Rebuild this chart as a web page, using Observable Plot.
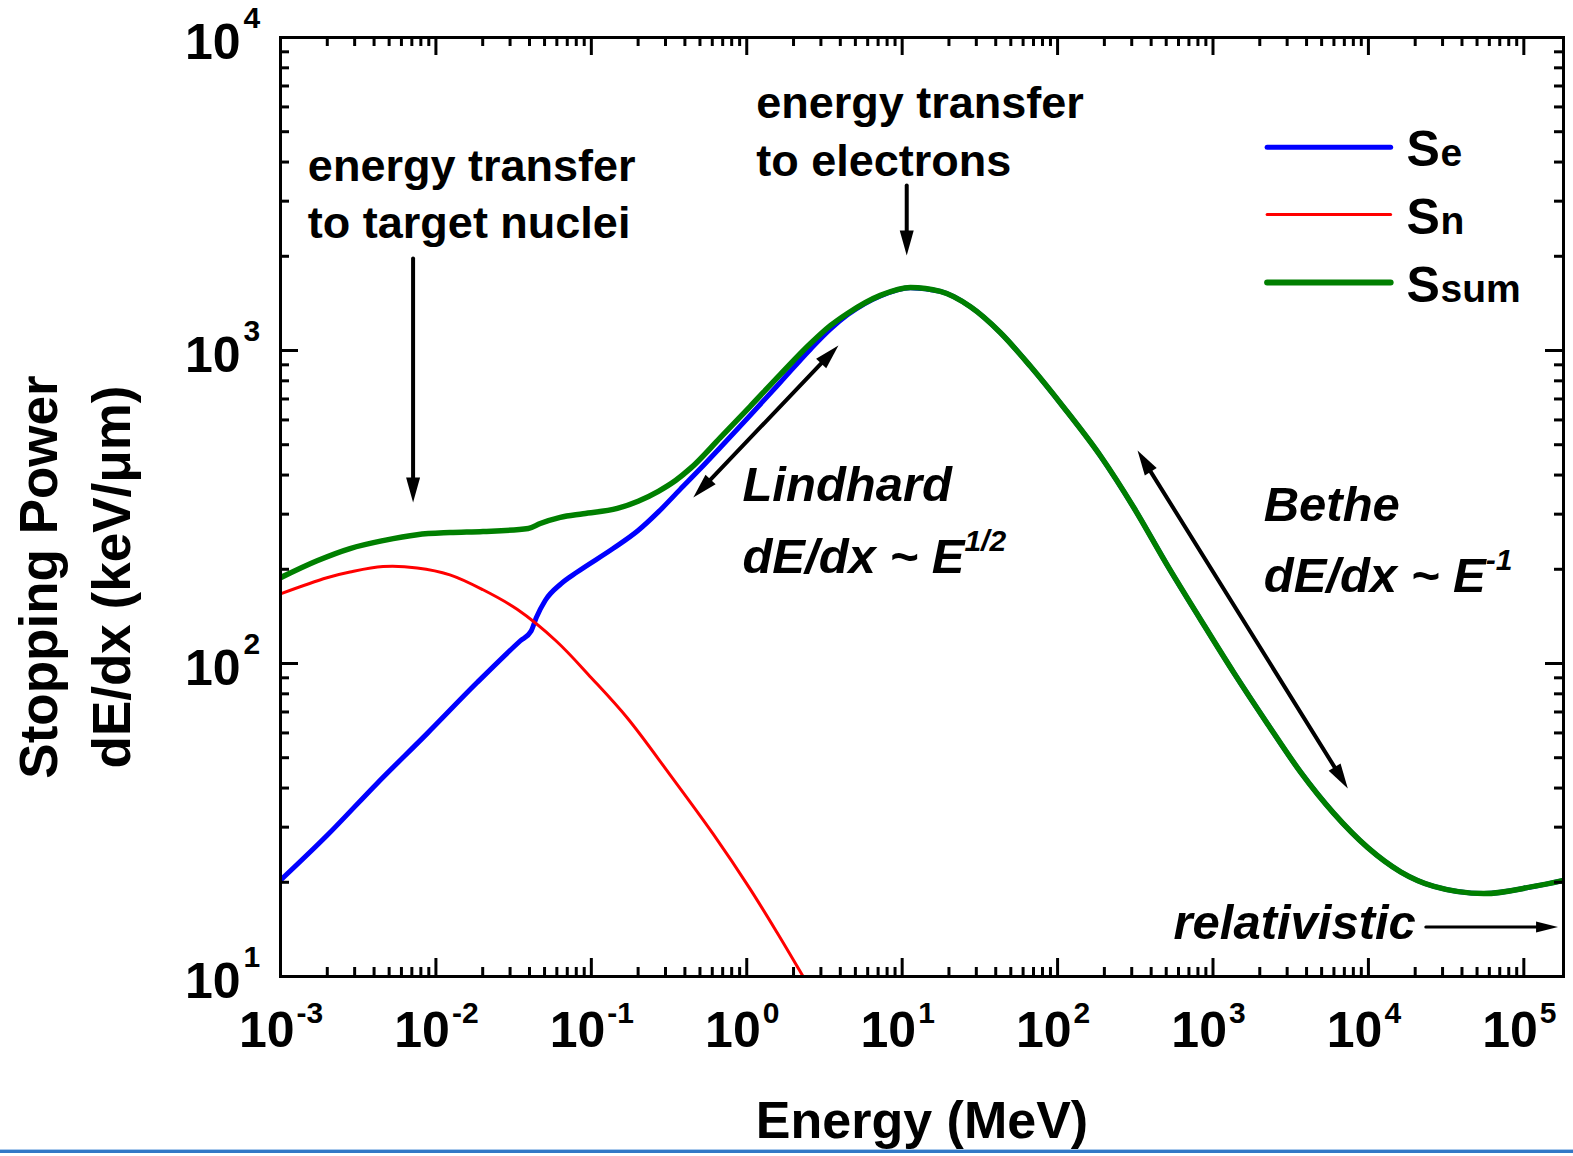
<!DOCTYPE html>
<html>
<head>
<meta charset="utf-8">
<script src="https://cdn.jsdelivr.net/npm/d3@7"></script>
<script src="https://cdn.jsdelivr.net/npm/@observablehq/plot@0.6"></script>
<style>
  html, body { margin: 0; padding: 0; background: #fff; }
  #chart { width: 1573px; height: 1149px; overflow: hidden; }
  #chart svg { overflow: hidden; }
  .edge1 { height: 1px; background: #a9c9ec; }
  .edge2 { height: 3px; background: #3278c6; }
</style>
</head>
<body>
<div id="chart"></div>
<div class="edge1"></div>
<div class="edge2"></div>
<script>
// Electronic stopping power Se (MeV, keV/µm)
const seEnergy = [0.001, 0.00199, 0.00418, 0.00877, 0.0184, 0.0348, 0.0410, 0.0442, 0.0505, 0.0640, 0.0811, 0.138, 0.200, 0.270, 0.373, 0.500, 0.676, 1.05, 1.64, 2.57, 3.45, 4.45, 7.24, 11.3, 17.6, 27.5, 42.9, 66.9, 109, 189, 309, 511, 833, 1360, 2250, 3670, 5990, 9910, 16100, 26400, 55300, 116000, 181000];
const seValue  = [20.3, 28.2, 41.4, 59.7, 86.9, 118, 127, 140, 159, 180, 196, 233, 266, 305, 360, 418, 490, 620, 790, 1010, 1170, 1300, 1495, 1588, 1545, 1380, 1140, 890, 660, 460, 315, 205, 138, 93.5, 64, 44.9, 33.2, 25.8, 21.6, 19.4, 18.4, 19.4, 20.3];

// Nuclear stopping power Sn
const snEnergy = [0.001, 0.00199, 0.0028, 0.00457, 0.00757, 0.0123, 0.0201, 0.0333, 0.0594, 0.0998, 0.170, 0.322, 0.609, 1.04, 1.57, 2.42];
const snValue  = [167, 188, 196, 204, 202, 192, 172, 149, 118, 90.1, 67.1, 44, 28.5, 19.2, 13.8, 9.6];

// Total stopping power Ssum
const sumEnergy = [0.001, 0.00172, 0.00280, 0.00457, 0.00757, 0.0123, 0.0201, 0.0393, 0.0469, 0.0631, 0.0887, 0.147, 0.200, 0.270, 0.350, 0.434, 0.676, 1.05, 1.64, 2.57, 3.45, 4.45, 7.24, 11.3, 17.6, 27.5, 42.9, 66.9, 109, 189, 309, 511, 833, 1360, 2250, 3670, 5990, 9910, 16100, 26400, 55300, 116000, 181000];
const sumValue  = [188, 213, 233, 247, 258, 262, 264, 270, 280, 293, 301, 313, 330, 355, 385, 420, 527, 662, 837, 1052, 1200, 1313, 1500, 1590, 1545, 1380, 1140, 890, 660, 460, 315, 205, 138, 93.5, 64, 44.9, 33.2, 25.8, 21.6, 19.4, 18.4, 19.4, 20.3];

// Axis decades (exponents of ten) and minor multipliers
const xExponents = [-3, -2, -1, 0, 1, 2, 3, 4, 5];
const yExponents = [1, 2, 3, 4];
const minorMultipliers = [2, 3, 4, 5, 6, 7, 8, 9];

// Legend entries
const legendLabels = ["e", "n", "sum"];
const legendColors = ["#0000ff", "#ff0000", "#007f00"];
const legendWidths = [5, 3, 6];
const legendRowY = [4457, 2718, 1648];
const legendLineX = [2230, 13900];
const legendTextX = 17600;

// Text annotations (data coordinates)
const plainNotes = [
  {x: 0.0015, y: 3491, text: "energy transfer"},
  {x: 0.0015, y: 2280, text: "to target nuclei"},
  {x: 1.15, y: 5546, text: "energy transfer"},
  {x: 1.15, y: 3623, text: "to electrons"}
];
const italicNotes = [
  {x: 0.938, y: 330, text: "Lindhard"},
  {x: 0.938, y: 194, text: "dE/dx ~ E"},
  {x: 2120, y: 286, text: "Bethe"},
  {x: 2120, y: 169, text: "dE/dx ~ E"}
];
const powerNotes = [
  {x: 0.938, y: 194, text: "1/2"},
  {x: 2120, y: 169, text: "-1"}
];
const relNote = [{x: 20200, y: 13.2, text: "relativistic"}];

// Arrows: single-headed, double-headed, and the thin relativistic one
const singleArrows = [
  {x1: 0.00713, y1: 1967, x2: 0.00713, y2: 327},
  {x1: 10.7, y1: 3366, x2: 10.7, y2: 2013}
];
const doubleArrows = [
  {x1: 0.453, y1: 339, x2: 3.89, y2: 1038},
  {x1: 327, y1: 479, x2: 7370, y2: 39.9}
];
const thinArrows = [
  {x1: 23400, y1: 14.4, x2: 166000, y2: 14.4}
];

// Layout
const W = 1573, H = 1149;
const margin = {top: 37, right: 10, bottom: H - 976, left: 280};
const frameW = W - margin.left - margin.right;
const frameH = H - margin.top - margin.bottom;
const xDomain = [1e-3, 1.8e5];
const yDomain = [10, 1e4];

const xMajor = xExponents.map(e => Math.pow(10, e));
const xMinor = xExponents.flatMap(e => minorMultipliers.map(m => m * Math.pow(10, e))).filter(v => v <= xDomain[1]);
const yMajor = yExponents.map(e => Math.pow(10, e));
const yMinor = yExponents.flatMap(e => minorMultipliers.map(m => m * Math.pow(10, e))).filter(v => v <= yDomain[1]);

const toRows = (xs, ys) => xs.map((x, i) => ({x, y: ys[i]}));
const seData = toRows(seEnergy, seValue);
const snData = toRows(snEnergy, snValue);
const sumData = toRows(sumEnergy, sumValue);

// Scales used for orienting the filled arrowheads
const sx = Plot.scale({x: {type: "log", domain: xDomain, range: [margin.left, W - margin.right]}});
const sy = Plot.scale({y: {type: "log", domain: yDomain, range: [H - margin.bottom, margin.top]}});
const headAt = (tx, ty, fx, fy) => ({
  x: tx, y: ty,
  angle: Math.atan2(sy.apply(ty) - sy.apply(fy), sx.apply(tx) - sx.apply(fx)) * 180 / Math.PI
});
const heads = [
  ...singleArrows.map(a => headAt(a.x2, a.y2, a.x1, a.y1)),
  ...doubleArrows.map(a => headAt(a.x2, a.y2, a.x1, a.y1)),
  ...doubleArrows.map(a => headAt(a.x1, a.y1, a.x2, a.y2))
];
const thinHeads = thinArrows.map(a => headAt(a.x2, a.y2, a.x1, a.y1));

const triangle = (len, half) => ({
  draw(ctx) { ctx.moveTo(0, 0); ctx.lineTo(-len, -half); ctx.lineTo(-len, half); ctx.closePath(); }
});

const bold = {fontWeight: "bold", fill: "black"};
const tickStyle = {stroke: "black", strokeWidth: 3};
const majorLen = 18, minorLen = 9;

const chart = Plot.plot({
  width: W,
  height: H,
  marginTop: margin.top,
  marginRight: margin.right,
  marginBottom: margin.bottom,
  marginLeft: margin.left,
  style: {fontFamily: "'Liberation Sans', Arial, Helvetica, sans-serif", background: "white", overflow: "hidden"},
  x: {type: "log", domain: xDomain, axis: null},
  y: {type: "log", domain: yDomain, axis: null},
  marks: [
    // curves
    Plot.line(seData, {x: "x", y: "y", stroke: "#0000ff", strokeWidth: 5, curve: "monotone-x", clip: true}),
    Plot.line(snData, {x: "x", y: "y", stroke: "#ff0000", strokeWidth: 3, curve: "catmull-rom", clip: true}),
    Plot.line(sumData, {x: "x", y: "y", stroke: "#007f00", strokeWidth: 5.5, curve: "monotone-x", clip: true}),

    // frame and inward ticks on all four sides
    Plot.frame({stroke: "black", strokeWidth: 3}),
    Plot.tickX(xMajor, {x: d => d, insetTop: frameH - majorLen, ...tickStyle}),
    Plot.tickX(xMajor, {x: d => d, insetBottom: frameH - majorLen, ...tickStyle}),
    Plot.tickX(xMinor, {x: d => d, insetTop: frameH - minorLen, ...tickStyle}),
    Plot.tickX(xMinor, {x: d => d, insetBottom: frameH - minorLen, ...tickStyle}),
    Plot.tickY(yMajor, {y: d => d, insetRight: frameW - majorLen, ...tickStyle}),
    Plot.tickY(yMajor, {y: d => d, insetLeft: frameW - majorLen, ...tickStyle}),
    Plot.tickY(yMinor, {y: d => d, insetRight: frameW - minorLen, ...tickStyle}),
    Plot.tickY(yMinor, {y: d => d, insetLeft: frameW - minorLen, ...tickStyle}),

    // tick labels as powers of ten
    Plot.text(xExponents, {x: e => Math.pow(10, e), frameAnchor: "bottom", text: () => "10", textAnchor: "end", lineAnchor: "bottom", dx: 14, dy: 70, fontSize: 50, ...bold}),
    Plot.text(xExponents, {x: e => Math.pow(10, e), frameAnchor: "bottom", text: e => String(e), textAnchor: "start", lineAnchor: "bottom", dx: 16, dy: 46, fontSize: 30, ...bold}),
    Plot.text(yExponents, {y: e => Math.pow(10, e), frameAnchor: "left", text: () => "10", textAnchor: "end", lineAnchor: "bottom", dx: -40, dy: 21, fontSize: 50, ...bold}),
    Plot.text(yExponents, {y: e => Math.pow(10, e), frameAnchor: "left", text: e => String(e), textAnchor: "start", lineAnchor: "bottom", dx: -37, dy: -10, fontSize: 30, ...bold}),

    // axis titles
    Plot.text(["Energy (MeV)"], {frameAnchor: "bottom", text: d => d, textAnchor: "middle", lineAnchor: "bottom", dy: 161, fontSize: 52, ...bold}),
    Plot.text(["Stopping Power"], {frameAnchor: "left", text: d => d, textAnchor: "middle", rotate: -90, dx: -240, dy: 70, fontSize: 53, ...bold}),
    Plot.text(["dE/dx (keV/\u03bcm)"], {frameAnchor: "left", text: d => d, textAnchor: "middle", rotate: -90, dx: -167, dy: 70, fontSize: 53, ...bold}),

    // legend
    Plot.link(legendLabels, {x1: () => legendLineX[0], x2: () => legendLineX[1], y1: (d, i) => legendRowY[i], y2: (d, i) => legendRowY[i], stroke: (d, i) => legendColors[i], strokeWidth: (d, i) => legendWidths[i], strokeLinecap: "round"}),
    Plot.text(legendLabels, {x: () => legendTextX, y: (d, i) => legendRowY[i], text: () => "S", textAnchor: "start", lineAnchor: "bottom", dy: 19, fontSize: 50, ...bold}),
    Plot.text(legendLabels, {x: () => legendTextX, y: (d, i) => legendRowY[i], text: d => d, textAnchor: "start", lineAnchor: "bottom", dx: 34, dy: 19, fontSize: 39, ...bold}),

    // annotations
    Plot.text(plainNotes, {x: "x", y: "y", text: "text", textAnchor: "start", lineAnchor: "bottom", fontSize: 45, ...bold}),
    Plot.text(italicNotes, {x: "x", y: "y", text: "text", textAnchor: "start", lineAnchor: "bottom", fontSize: 49, fontStyle: "italic", ...bold}),
    Plot.text(powerNotes, {x: "x", y: "y", text: "text", textAnchor: "start", lineAnchor: "bottom", dx: 222, dy: -22, fontSize: 30, fontStyle: "italic", ...bold}),
    Plot.text(relNote, {x: "x", y: "y", text: "text", textAnchor: "end", lineAnchor: "bottom", fontSize: 49, fontStyle: "italic", ...bold}),

    // arrows with filled heads
    Plot.arrow(singleArrows, {x1: "x1", y1: "y1", x2: "x2", y2: "y2", headLength: 0, insetEnd: 18, stroke: "black", strokeWidth: 4}),
    Plot.arrow(doubleArrows, {x1: "x1", y1: "y1", x2: "x2", y2: "y2", headLength: 0, insetStart: 18, insetEnd: 18, stroke: "black", strokeWidth: 4}),
    Plot.arrow(thinArrows, {x1: "x1", y1: "y1", x2: "x2", y2: "y2", headLength: 0, insetEnd: 16, stroke: "black", strokeWidth: 3}),
    Plot.dot(heads, {x: "x", y: "y", rotate: "angle", symbol: triangle(25, 7), r: 5, fill: "black", stroke: "none"}),
    Plot.dot(thinHeads, {x: "x", y: "y", rotate: "angle", symbol: triangle(22, 5.5), r: 5, fill: "black", stroke: "none"})
  ]
});

document.getElementById("chart").appendChild(chart);
</script>
</body>
</html>
